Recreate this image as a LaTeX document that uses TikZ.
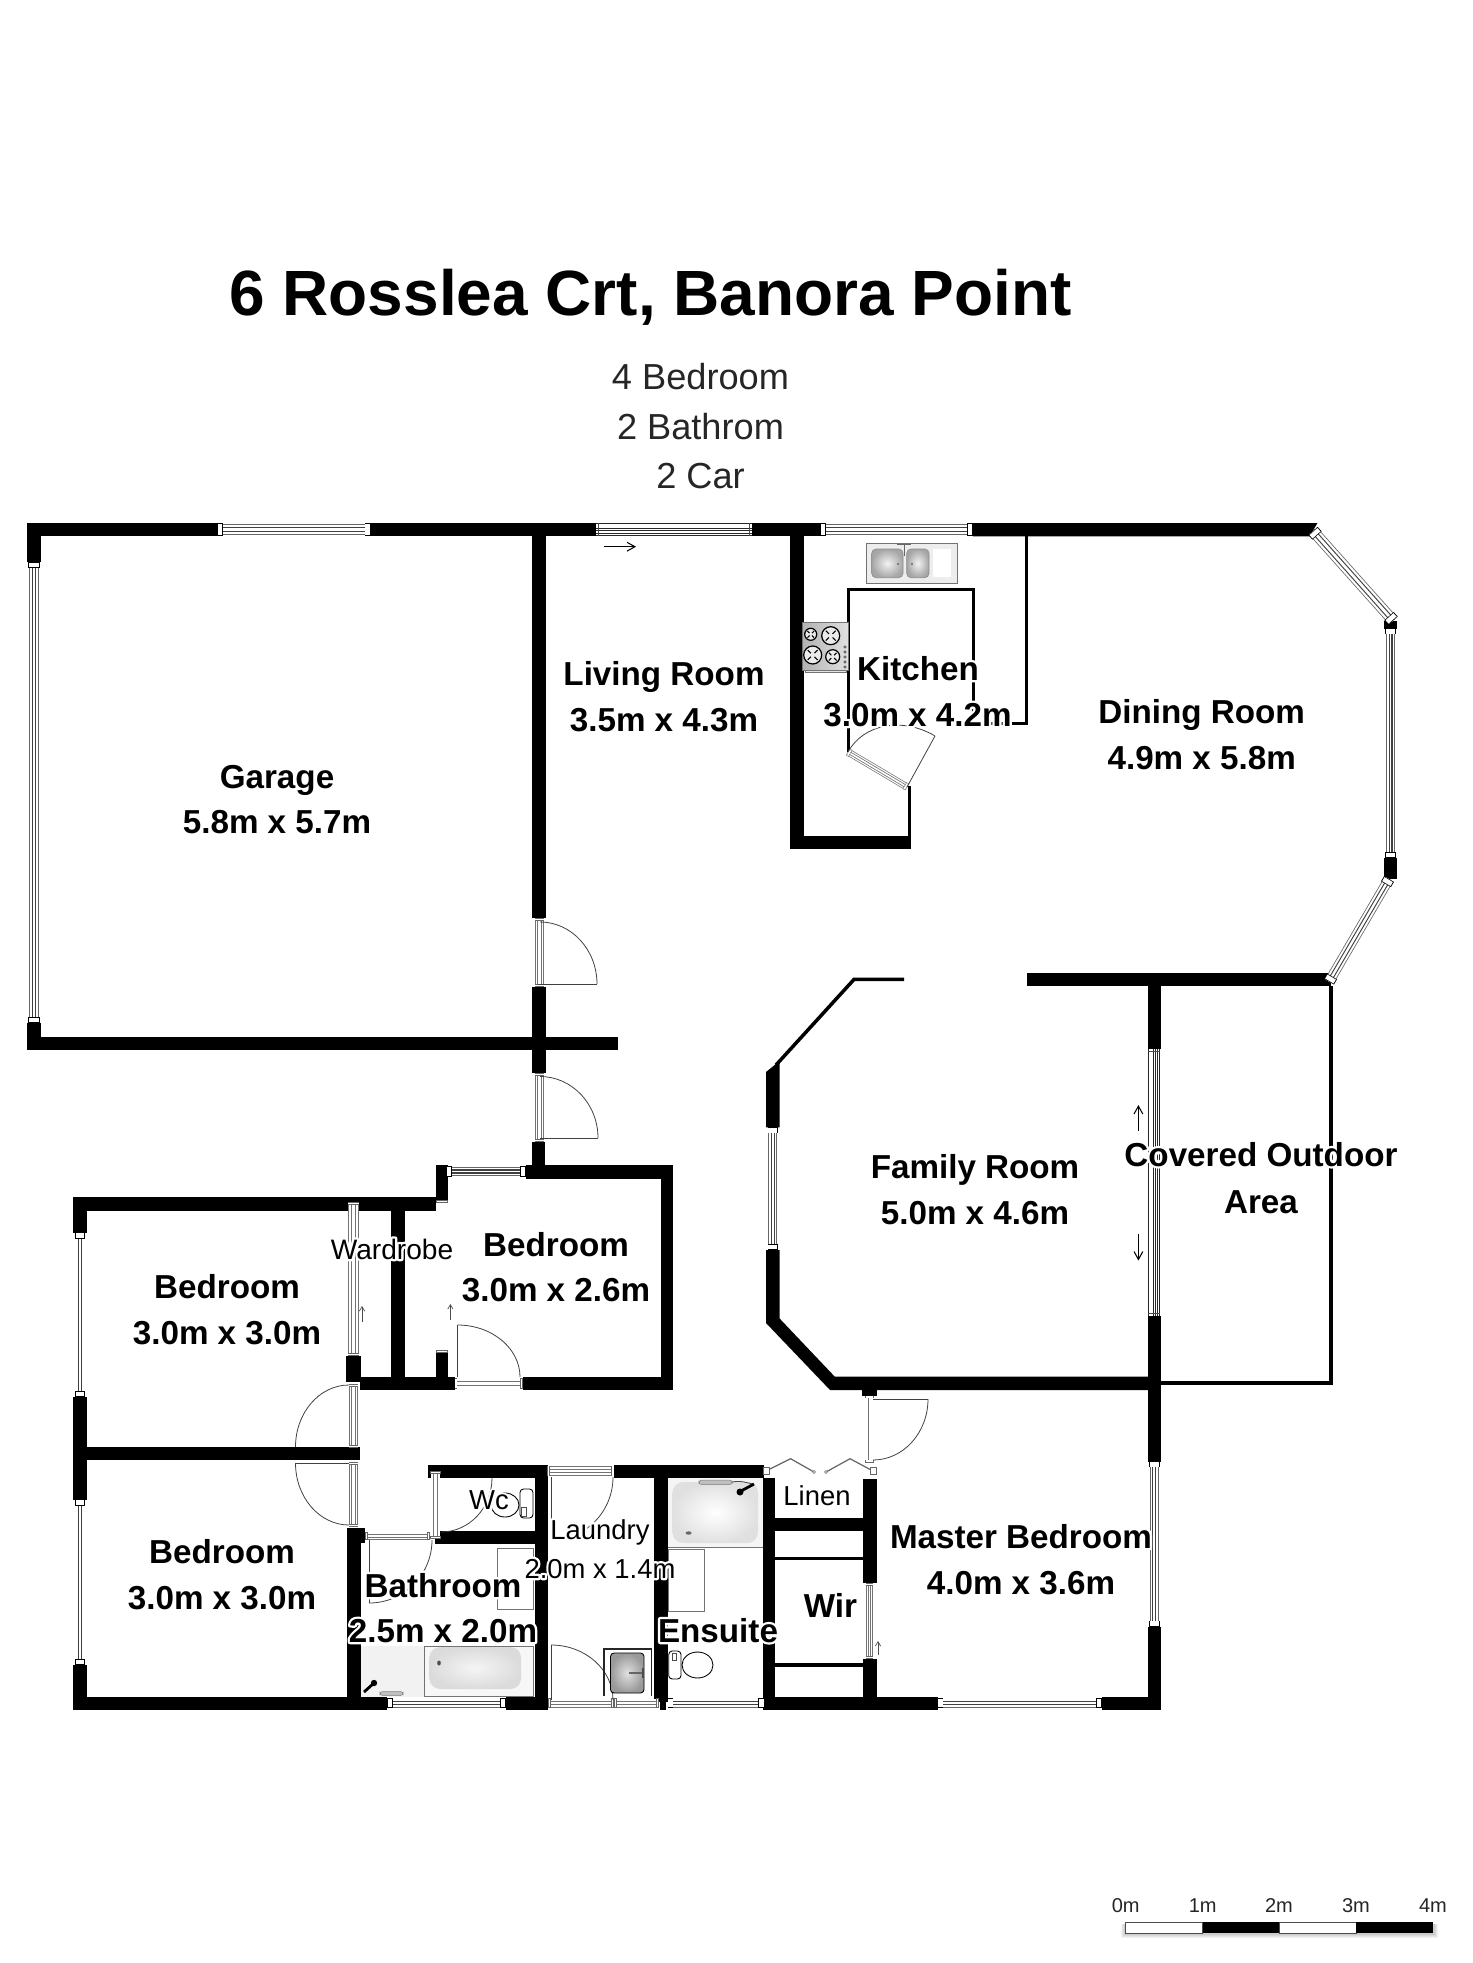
\documentclass[tikz,border=0pt]{standalone}
\usepackage{fontspec}
\setmainfont{Liberation Sans}
\usetikzlibrary{calc,arrows.meta}
% white halo: one stroked white copy under the black text
\newcommand\halotext[1]{\leavevmode\rlap{\special{pdf:code q 1 Tr 2.6 w 1 1 1 RG 1 J 1 j}#1\special{pdf:code Q}}#1}
\tikzset{
  wallfill/.style={fill=black},
  thinline/.style={draw=black!75,line width=0.45pt},
  fixture/.style={draw=black!55,line width=0.5pt},
  arrowline/.style={draw=black,line width=0.6pt,-{Straight Barb[length=4.5pt,width=5pt]}},
  smallarrow/.style={draw=black!70,line width=0.4pt,-{Straight Barb[length=2.5pt,width=3pt]}},
  roomlabel/.style={anchor=base,inner sep=0pt,font=\bfseries\fontsize{18.9}{20}\selectfont},
  smalllabel/.style={anchor=base,inner sep=0pt,font=\fontsize{15.6}{18}\selectfont},
  infolabel/.style={anchor=base,inner sep=0pt,font=\fontsize{20.6}{24}\selectfont,text=black!85},
  scalelabel/.style={anchor=base,inner sep=0pt,font=\fontsize{11.4}{13}\selectfont,text=black!85},
  titlelabel/.style={anchor=base,inner sep=0pt,font=\bfseries\fontsize{36.4}{40}\selectfont},
}
% window: end points, width in px
\newcommand\win[5]{%
  \coordinate (wa) at (#1,#2); \coordinate (wb) at (#3,#4);
  \draw[black!60,line width=#5*0.5669pt] (wa)--(wb);
  \draw[white,line width=(#5-1.6)*0.5669pt] (wa)--(wb);
  \draw[black!75,line width=#5*0.45*0.5669pt] (wa)--(wb);
  \draw[white,line width=(#5*0.45-2.2)*0.5669pt] (wa)--(wb);
  \draw[black,line width=(#5+1.5)*0.5669pt] (wa)--($(wa)!3.4pt!(wb)$);
  \draw[white,line width=(#5-0.3)*0.5669pt] ($(wa)!0.4pt!(wb)$)--($(wa)!3pt!(wb)$);
  \draw[black,line width=(#5+1.5)*0.5669pt] (wb)--($(wb)!3.4pt!(wa)$);
  \draw[white,line width=(#5-0.3)*0.5669pt] ($(wb)!0.4pt!(wa)$)--($(wb)!3pt!(wa)$);
}
% door threshold: lighter window without heavy caps
\newcommand\thres[5]{%
  \coordinate (wa) at (#1,#2); \coordinate (wb) at (#3,#4);
  \draw[black!55,line width=#5*0.5669pt] (wa)--(wb);
  \draw[white,line width=(#5-1.4)*0.5669pt] (wa)--(wb);
  \draw[black!55,line width=#5*0.45*0.5669pt] (wa)--(wb);
  \draw[white,line width=(#5*0.45-1.6)*0.5669pt] (wa)--(wb);
  \draw[black!60,line width=(#5+0.5)*0.5669pt] (wa)--($(wa)!1.6pt!(wb)$);
  \draw[white,line width=(#5-0.5)*0.5669pt] ($(wa)!0.3pt!(wb)$)--($(wa)!1.3pt!(wb)$);
  \draw[black!60,line width=(#5+0.5)*0.5669pt] (wb)--($(wb)!1.6pt!(wa)$);
  \draw[white,line width=(#5-0.5)*0.5669pt] ($(wb)!0.3pt!(wa)$)--($(wb)!1.3pt!(wa)$);
}
% sliding door: striped
\newcommand\slide[5]{%
  \coordinate (wa) at (#1,#2); \coordinate (wb) at (#3,#4);
  \draw[black!85,line width=#5*0.5669pt] (wa)--(wb);
  \draw[white,line width=(#5-1.6)*0.5669pt] (wa)--(wb);
  \draw[black!85,line width=#5*0.62*0.5669pt] (wa)--(wb);
  \draw[white,line width=(#5*0.62-1.6)*0.5669pt] (wa)--(wb);
  \draw[black!85,line width=#5*0.2*0.5669pt] (wa)--(wb);
  \draw[white,line width=(#5*0.2-1)*0.5669pt] (wa)--(wb);
  \draw[black!70,line width=#5*0.5669pt] ($(wa)!1.4pt!(wb)$)--($(wa)!1.9pt!(wb)$);
  \draw[black!70,line width=#5*0.5669pt] ($(wb)!1.4pt!(wa)$)--($(wb)!1.9pt!(wa)$);
}
% quarter arc from a to b with square corner c
\newcommand\qarc[6]{%
  \coordinate (qa) at (#1,#2); \coordinate (qc) at (#3,#4); \coordinate (qb) at (#5,#6);
  \draw[thinline] (qa) .. controls ($(qa)!0.5523!(qc)$) and ($(qb)!0.5523!(qc)$) .. (qb);
}
\begin{document}
\begin{tikzpicture}[x=0.02cm,y=-0.02cm]
\useasboundingbox (0,0) rectangle (1472,1963);
\fill[white] (0,0) rectangle (1472,1963);

% ---- walls ----
\foreach \a/\b/\c/\d in {
 27/523/217/536.4, 370.5/523/596/536.4, 752/523/820/536.4,
 27/523/40.6/562, 27/1023/40.6/1050, 27/1036.6/618/1050,
 532/528/546/918, 532/987/546/1072.6, 532/1142/545/1171,
 526/1164.7/673.4/1178.5, 661/1164.7/673.4/1390, 523/1377/673.4/1390,
 360/1377/454.6/1390, 435.6/1164.7/448/1200, 435.6/1353/448/1390,
 73/1197/435.6/1210.5, 73/1197/87/1232.7, 73/1397/87/1499.6, 73/1665/87/1710,
 346/1356/361/1382, 391.4/1210/404.5/1377,
 87/1447/360/1460,
 73/1696.5/387/1710, 347/1528/360.7/1710, 347/1528/365/1543,
 427.6/1465/545.5/1478.3, 434.5/1531/535/1544.3, 534.7/1465/548/1710,
 506/1696.5/548/1710,
 614.3/1465/764.4/1478.3, 654/1465/667.5/1702, 660/1697/665.6/1710,
 762.5/1478/775/1710, 764.4/1696.5/937.5/1709.5,
 863/1479/876.5/1583, 863/1659/876.5/1703,
 775/1518/863/1530.6, 775/1556.5/863/1560, 775/1663/863/1666.5,
 862/1384/877/1395.5,
 1102/1696.5/1160.8/1709.5, 1147.8/1316/1160.8/1461.5, 1147.8/1626.7/1160.8/1709.5,
 1147.6/986/1161/1049,
 1384/620.6/1397/628.5, 1384/858/1397/879,
 790.4/523/803.5/849.3, 790.4/836/911/849.3, 908/786/911/836,
 847/588/975/591, 847/588/849.5/752, 972/588/975/725,
 1025/523/1028/725, 972/722/1028/725,
 1329/986/1332.8/1384.6, 1160/1381/1332.8/1384.6
}{\fill[wallfill] (\a,\b) rectangle (\c,\d);}
% slanted wall ends
\fill[wallfill] (973,523) -- (1317.5,523) -- (1309.5,536.4) -- (973,536.4) -- cycle;
\fill[wallfill] (1026.6,972.5) -- (1330.6,972.5) -- (1330.6,986.4) -- (1026.6,986.4) -- cycle;
% family room outline
\fill[wallfill] (766,1250) -- (779.6,1250) -- (779.6,1318.5) -- (834.7,1376.6) -- (1150,1376.6) -- (1150,1390) -- (830,1390) -- (766,1323) -- cycle;
\fill[wallfill] (766,1072) -- (779.6,1061) -- (779.6,1127.4) -- (766,1127.4) -- cycle;
\draw[black,line width=2pt,line join=miter] (776,1065) -- (854,979.4) -- (904,979.4);

% ---- windows ----
\win{217}{529.7}{370.5}{529.7}{11}
\win{34}{562}{34}{1023}{10}
\win{820}{529.7}{973}{529.7}{11}
\win{1313}{531}{1393}{620.6}{11}
\win{1390.5}{628.5}{1390.5}{858}{9}
\win{1389}{879}{1329}{981.6}{10}
\win{446}{1171.5}{526}{1171.5}{9}
\win{80}{1232.7}{80}{1397}{9}
\win{80}{1499.6}{80}{1665}{9}
\win{387}{1703}{506}{1703}{9}
\win{667.5}{1703}{764.4}{1703}{9}
\win{772.8}{1127.4}{772.8}{1250}{9}
\win{1154.3}{1461.5}{1154.3}{1626.7}{9}
\win{937.5}{1703}{1102}{1703}{9}
% sliding doors
\slide{596}{529.7}{752}{529.7}{13}
\slide{1154.3}{1049}{1154.3}{1316}{12}
\thres{353.5}{1202}{353.5}{1356}{11}
\thres{442}{1200}{442}{1353}{11}
\thres{435.5}{1471}{435.5}{1539}{10}
\thres{869.5}{1583}{869.5}{1659}{7}
% door thresholds
\thres{539.5}{918}{539.5}{987}{9}
\thres{539.5}{1073}{539.5}{1142}{9}
\thres{454.6}{1383.5}{523}{1383.5}{10}
\thres{353.5}{1384}{353.5}{1448}{9}
\thres{353.5}{1462}{353.5}{1527}{9}
\thres{365}{1536}{430}{1536}{7}
\thres{547}{1471}{614.3}{1471}{10}
\thres{548}{1703}{614}{1703}{9}
\thres{614}{1703}{659}{1703}{9}
\thres{869.5}{1395.5}{869.5}{1462.5}{8}
\thres{848}{752}{907}{787}{7}

% ---- door leaves and swings ----
\draw[thinline] (538,984) -- (597,984);
\qarc{540}{922}{597}{922}{597}{984}
\draw[thinline] (540,1138) -- (598,1138);
\qarc{540}{1076.5}{598}{1076.5}{598}{1138}
\draw[thinline] (457.5,1325) -- (457.5,1377);
\qarc{457.5}{1325}{520}{1325}{520}{1377}
\qarc{349}{1385}{295.5}{1385}{295.5}{1447}
\draw[thinline] (295.5,1463) -- (349,1463);
\qarc{295.5}{1463}{295.5}{1525}{349}{1525}
\draw[thinline] (873,1399) -- (928,1399);
\qarc{928}{1399}{928}{1460}{873}{1460}
\qarc{492}{1478}{492}{1532}{441}{1532}
\draw[thinline] (369,1540) -- (369,1603);
\qarc{432}{1540}{432}{1603}{369}{1603}
\draw[thinline] (551,1477) -- (551,1540);
\qarc{613}{1477}{613}{1540}{551}{1540}
\draw[thinline] (551,1645) -- (551,1700);
\qarc{551}{1645}{613}{1645}{613}{1700}
\draw[thinline] (907,787) -- (935,736);
\qarc{935}{736}{876}{701}{848}{752}
% linen bifold doors
\draw[black!60,line width=0.7pt] (766,1471) -- (790.6,1458.7) -- (814,1472);
\draw[black!60,line width=0.7pt] (826,1472) -- (850,1458.7) -- (873,1471);
\foreach \p/\q in {814/1472,826/1472}{\fill[white,draw=black!60,line width=0.3pt] (\p,\q) circle (1.5);}
\foreach \p/\q in {766/1471,873/1471}{\draw[black!60,fill=white,line width=0.3pt] (\p-3,\q-3.5) rectangle (\p+3,\q+3.5);}

% ---- kitchen fixtures ----
\draw[fixture,fill=black!7] (866,543) rectangle (957,583);
\shade[inner color=black!5,outer color=black!35,rounded corners=2.5] (871.7,549) rectangle (903,577.7);
\shade[inner color=black!5,outer color=black!35,rounded corners=2.5] (906.7,549) rectangle (929,577.7);
\draw[black!45,rounded corners=2.5,line width=0.4pt] (871.7,549) rectangle (903,577.7) (906.7,549) rectangle (929,577.7);
\fill[white] (933,549) rectangle (951,577);
\draw[black!60,line width=0.4pt] (904,544)--(904,556) (897,544)--(911,544);
\fill[black!60] (898,564) circle (1.2) (912,564) circle (1.2);
% stove
\shade[fixture,left color=black!30,right color=black!12] (802.5,622) rectangle (848,670);
\draw[black!55,line width=0.4pt,fill=black!10] (805,670) rectangle (846,672.5);
\foreach \cx/\cy/\rr in {810.7/634.3/6,830.7/635.7/9,812.7/655/9,832.7/656.7/7}{
  \draw[black,line width=0.7pt,fill=black!8] (\cx,\cy) circle (\rr);
  \draw[black,line width=0.6pt] (\cx-\rr*0.55,\cy-\rr*0.55)--(\cx-\rr*0.2,\cy-\rr*0.2) (\cx+\rr*0.55,\cy-\rr*0.55)--(\cx+\rr*0.2,\cy-\rr*0.2) (\cx-\rr*0.55,\cy+\rr*0.55)--(\cx-\rr*0.2,\cy+\rr*0.2) (\cx+\rr*0.55,\cy+\rr*0.55)--(\cx+\rr*0.2,\cy+\rr*0.2);
}
\foreach \yy in {647,652,657,662,667}{\draw[black!80,fill=white,line width=0.3pt] (845,\yy) circle (1.3);}

% ---- bathroom fixtures ----
\draw[fixture] (497,1548) rectangle (533,1609);
\fill[black!5] (360.7,1646) rectangle (424,1696.5);
\draw[fixture,fill=black!3] (424,1646) rectangle (533,1696.5);
\shade[inner color=black!4,outer color=black!14,rounded corners=6] (429.5,1647) rectangle (521,1689);
\fill[black!70] (439,1663) ellipse (1.8 and 2.5);
\draw[black,line width=1.6pt] (364,1692) -- (374,1683);
\fill[black] (374,1683) circle (3.2);
\draw[black!50,fill=black!25,line width=0.3pt,rounded corners=1.5] (380,1691.5) rectangle (403,1695.5);
% ---- WC ----
\draw[black,line width=0.5pt,fill=white,rounded corners=2] (520,1489) rectangle (533,1518);
\draw[black,line width=0.5pt,fill=white] (505,1505) ellipse (14 and 12);
\draw[black!70,line width=0.4pt] (521,1507) rectangle (526,1516);
% ---- laundry trough ----
\draw[black!85,line width=0.6pt] (604,1696) -- (604,1649) -- (651.5,1649) -- (651.5,1696);
\shade[inner color=black!12,outer color=black!40,rounded corners=2] (610.5,1653) rectangle (644,1693);
\draw[black,line width=0.5pt,rounded corners=2] (610.5,1653) rectangle (644,1693);
\draw[black!60,line width=1.2pt] (628.5,1673) -- (644,1673);
\draw[black!70,line width=1pt] (643,1668) -- (643,1678);
% ---- ensuite ----
\fill[black!4] (667.5,1478.3) rectangle (762.5,1547);
\draw[fixture] (667.5,1547) -- (762.5,1547);
\shade[inner color=white,outer color=black!12,rounded corners=6] (672.5,1482) rectangle (758,1543);
\draw[black!50,fill=black!25,line width=0.3pt,rounded corners=1.5] (699,1480) rectangle (732,1484.5);
\draw[black!70,line width=0.5pt] (732,1482) .. controls (740,1481) .. (753,1484);
\draw[black,line width=1.6pt] (754,1484) -- (741,1491);
\fill[black] (740,1492) circle (3.5);
\fill[black!60] (688.6,1533) ellipse (3 and 1.7);
\draw[fixture] (668.7,1549) rectangle (704,1611);
\draw[black,line width=0.5pt,fill=white,rounded corners=2] (668.7,1651) rectangle (681,1679);
\draw[black,line width=0.5pt,fill=white] (697.5,1665) ellipse (15.5 and 13);
\draw[black!70,line width=0.4pt] (672,1653) rectangle (676,1660);

% ---- arrows ----
\draw[arrowline] (604,546.7) -- (636,546.7);
\draw[arrowline] (1138.4,1131) -- (1138.4,1105);
\draw[arrowline] (1138.4,1233.6) -- (1138.4,1260.5);
\draw[smallarrow] (362,1322) -- (362,1306);
\draw[smallarrow] (450.4,1320) -- (450.4,1304);
\draw[smallarrow] (878,1655) -- (878,1641);

% ---- scale bar ----
\foreach \o in {5,4,3,2}{\fill[black,opacity=0.05] (1125.7-\o,1924) rectangle (1432.7+\o,1933+\o);}
\draw[black!70,fill=white,line width=0.5pt] (1125.7,1922) rectangle (1202.7,1933);
\fill[black] (1202.7,1922) rectangle (1279,1933);
\draw[black!70,fill=white,line width=0.5pt] (1279,1922) rectangle (1356,1933);
\fill[black] (1356,1922) rectangle (1432.7,1933);

% ---- labels ----
\node[titlelabel] (title) at (650.5,316) {6 Rosslea Crt, Banora Point};
\node[infolabel] (info1) at (700.5,389) {4 Bedroom};
\node[infolabel] (info2) at (700.5,439) {2 Bathrom};
\node[infolabel] (info3) at (700.5,488) {2 Car};

\node[roomlabel] (garageA) at (277,788) {Garage};
\node[roomlabel] (garageB) at (277,833) {5.8m x 5.7m};
\node[roomlabel] (livingA) at (664,685) {Living Room};
\node[roomlabel] (livingB) at (664,731.5) {3.5m x 4.3m};
\node[roomlabel] (kitchenA) at (918,680) {\halotext{Kitchen}};
\node[roomlabel] (kitchenB) at (917.5,726) {\halotext{3.0m x 4.2m}};
\node[roomlabel] (diningA) at (1201.7,723) {Dining Room};
\node[roomlabel] (diningB) at (1201.7,769) {4.9m x 5.8m};
\node[roomlabel] (familyA) at (975,1178) {Family Room};
\node[roomlabel] (familyB) at (975,1224) {5.0m x 4.6m};
\node[roomlabel] (outdoorA) at (1261,1166) {\halotext{Covered Outdoor}};
\node[roomlabel] (outdoorB) at (1261,1213) {Area};
\node[roomlabel] (masterA) at (1021,1548) {\halotext{Master Bedroom}};
\node[roomlabel] (masterB) at (1021,1594) {4.0m x 3.6m};
\node[roomlabel] (wir) at (830.5,1617) {Wir};
\node[roomlabel] (bed1A) at (227,1298) {Bedroom};
\node[roomlabel] (bed1B) at (227,1344) {3.0m x 3.0m};
\node[roomlabel] (bed2A) at (556,1256) {Bedroom};
\node[roomlabel] (bed2B) at (556,1301) {\halotext{3.0m x 2.6m}};
\node[roomlabel] (bed3A) at (222,1563) {Bedroom};
\node[roomlabel] (bed3B) at (222,1609) {3.0m x 3.0m};
\node[roomlabel] (bathA) at (443,1597) {\halotext{Bathroom}};
\node[roomlabel] (bathB) at (443,1642) {\halotext{2.5m x 2.0m}};
\node[roomlabel] (ensuite) at (718,1642) {\halotext{Ensuite}};

\node[smalllabel,font=\fontsize{16}{20}\selectfont] (wardrobe) at (392,1259) {\halotext{Wardrobe}};
\node[smalllabel] (wc) at (489,1509.5) {\halotext{Wc}};
\node[smalllabel] (laundryA) at (600,1539) {\halotext{Laundry}};
\node[smalllabel] (laundryB) at (600,1578) {\halotext{2.0m x 1.4m}};
\node[smalllabel] (linen) at (817,1505.5) {Linen};

\node[scalelabel] (s0) at (1125.7,1912) {0m};
\node[scalelabel] (s1) at (1202.7,1912) {1m};
\node[scalelabel] (s2) at (1279,1912) {2m};
\node[scalelabel] (s3) at (1356,1912) {3m};
\node[scalelabel] (s4) at (1433,1912) {4m};
\end{tikzpicture}
\end{document}
